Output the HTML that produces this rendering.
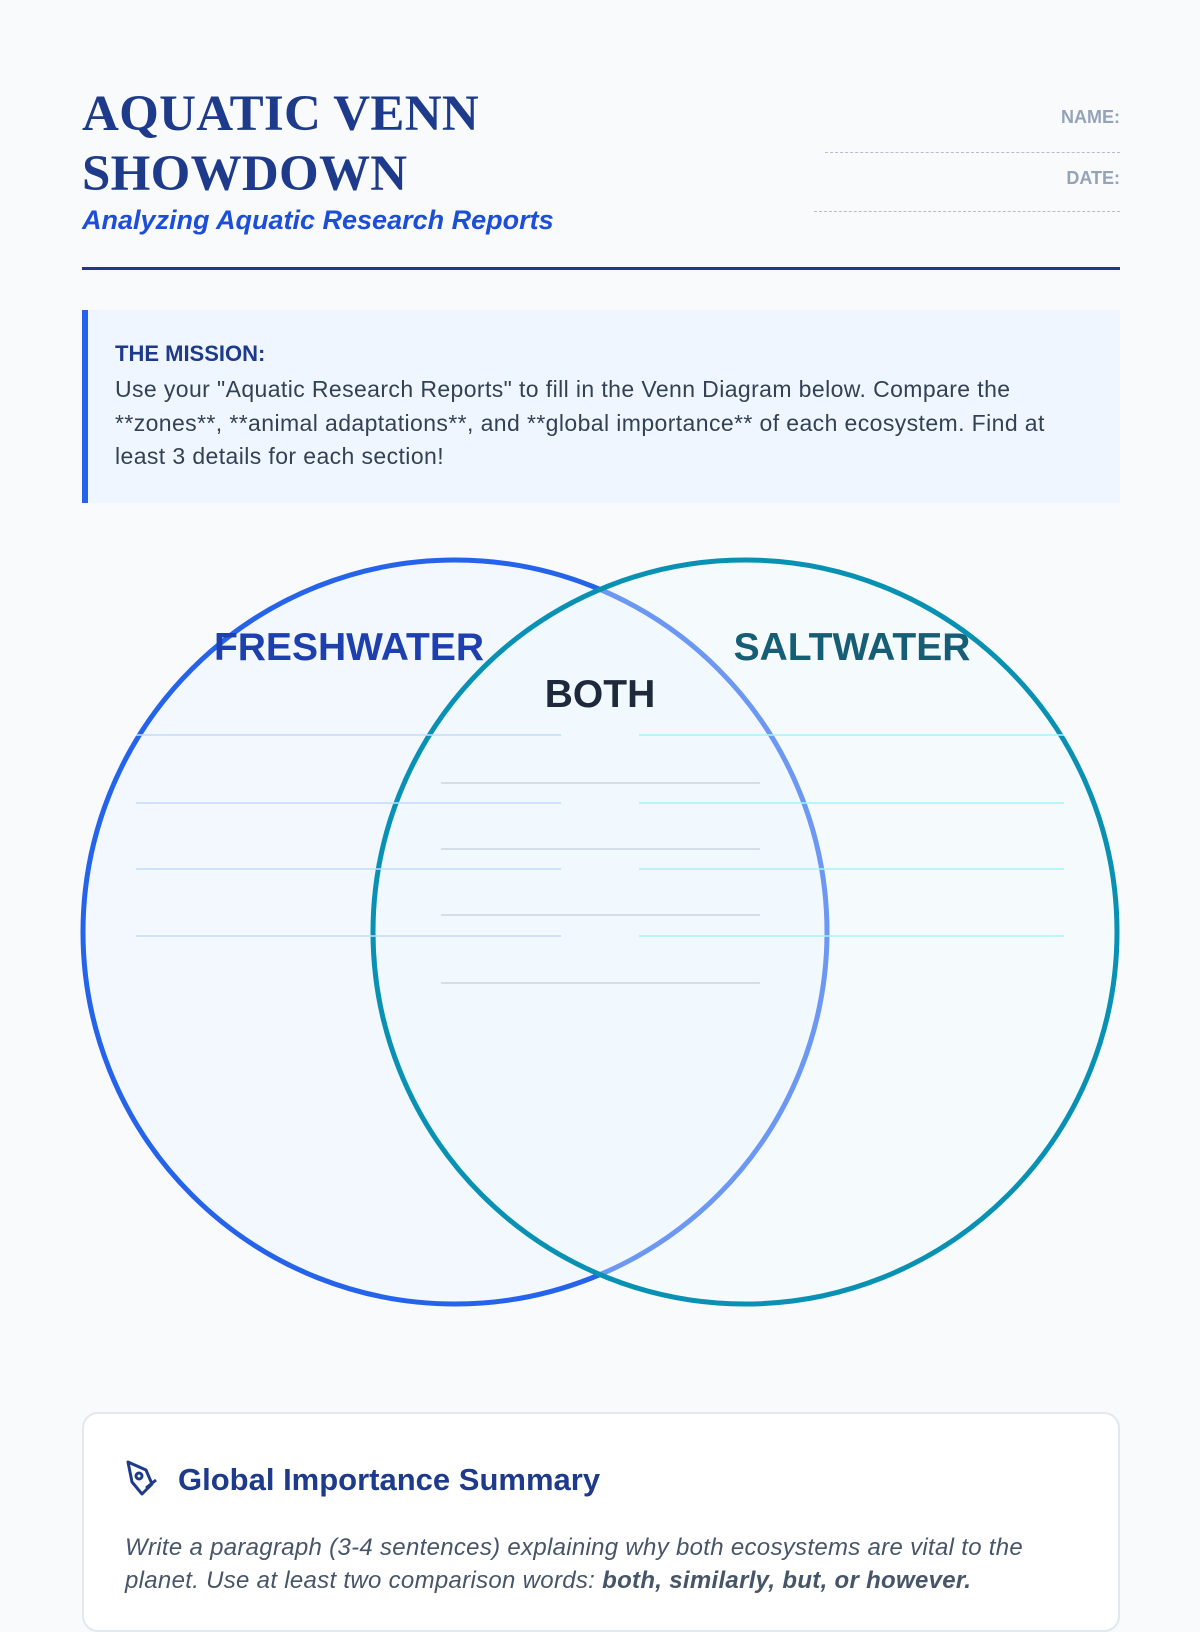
<!DOCTYPE html>
<html><head><meta charset="utf-8">
<style>
*{margin:0;padding:0;box-sizing:border-box}
html,body{width:1200px;height:1600px;background:#f8fafc;overflow:hidden;font-family:"Liberation Sans",sans-serif}
.abs{position:absolute}
h1{position:absolute;left:82px;top:84px;font-family:"Liberation Serif",serif;font-weight:bold;font-size:51px;line-height:60px;color:#1e3a8a;letter-spacing:0.3px}
.sub{left:82px;top:205px;font-style:italic;font-weight:bold;font-size:27px;color:#1d4ed8;letter-spacing:0}
.meta{right:80px;text-align:right;font-weight:bold;font-size:18px;color:#94a3b8}
.ml{right:80px;height:2px;border-top:1.5px dashed #b4bdca}
.rule{left:82px;top:267px;width:1038px;height:3px;background:#1e3a8a}
.mission{left:82px;top:310px;width:1038px;height:193px;background:#eff6ff;border-left:6px solid #2563eb;padding:31px 0 0 27px}
.mission b{display:block;font-size:22px;color:#1e3a8a;margin-bottom:6px}
.mission p{font-size:23px;line-height:33.5px;color:#334155;letter-spacing:0.4px}
.card{left:82px;top:1412px;width:1038px;height:220px;background:#fff;border:2px solid #e2e8f0;border-radius:16px}
.card h2{position:absolute;left:94px;top:48px;font-size:31px;color:#1e3a8a;letter-spacing:0}
.card p{position:absolute;left:41px;top:117px;width:1000px;font-style:italic;font-size:24px;line-height:33px;color:#475569;letter-spacing:0.3px}
</style></head><body>
<h1>AQUATIC VENN<br>SHOWDOWN</h1>
<div class="abs sub">Analyzing Aquatic Research Reports</div>
<div class="abs meta" style="top:107px">NAME:</div>
<div class="abs ml" style="top:152px;width:295px"></div>
<div class="abs meta" style="top:168px">DATE:</div>
<div class="abs ml" style="top:211px;width:306px"></div>
<div class="abs rule"></div>
<div class="abs mission"><b>THE MISSION:</b><p>Use your "Aquatic Research Reports" to fill in the Venn Diagram below. Compare the<br>**zones**, **animal adaptations**, and **global importance** of each ecosystem. Find at<br>least 3 details for each section!</p></div>
<svg class="abs" style="left:0;top:0" width="1200" height="1400">
<circle cx="455" cy="932" r="372" fill="rgba(239,246,255,0.6)" stroke="#2563eb" stroke-width="5"/>
<circle cx="745" cy="932" r="372" fill="rgba(240,250,255,0.35)" stroke="#0891b2" stroke-width="5" />
<g stroke="#bfdbfe" stroke-width="1.5"><line x1="136" y1="735" x2="561" y2="735"/><line x1="136" y1="803" x2="561" y2="803"/><line x1="136" y1="869" x2="561" y2="869"/><line x1="136" y1="936" x2="561" y2="936"/></g>
<g stroke="#a5f3fc" stroke-width="1.5"><line x1="639" y1="735" x2="1064" y2="735"/><line x1="639" y1="803" x2="1064" y2="803"/><line x1="639" y1="869" x2="1064" y2="869"/><line x1="639" y1="936" x2="1064" y2="936"/></g>
<g stroke="#cbd5e1" stroke-width="1.5"><line x1="441" y1="783" x2="760" y2="783"/><line x1="441" y1="849" x2="760" y2="849"/><line x1="441" y1="915" x2="760" y2="915"/><line x1="441" y1="983" x2="760" y2="983"/></g>
<g font-family="Liberation Sans,sans-serif" font-weight="bold" font-size="39" text-anchor="middle">
<text x="349" y="660" fill="#1e40af">FRESHWATER</text>
<text x="852" y="660" fill="#155e75">SALTWATER</text>
<text x="600" y="707" fill="#1e293b">BOTH</text>
</g>
</svg>
<div class="abs card">
<svg class="abs" style="left:40px;top:44px" width="36" height="40" viewBox="0 0 36 40"><g fill="none" stroke="#1e3a8a" stroke-width="3" stroke-linejoin="round"><path d="M4 4 L22 12 L28 26 L18 36 L8 24 Z"/><circle cx="15" cy="18" r="3"/><path d="M22 30 L32 22"/></g></svg>
<h2>Global Importance Summary</h2>
<p>Write a paragraph (3-4 sentences) explaining why both ecosystems are vital to the<br>planet. Use at least two comparison words: <b>both, similarly, but, or however.</b></p>
</div>
</body></html>
